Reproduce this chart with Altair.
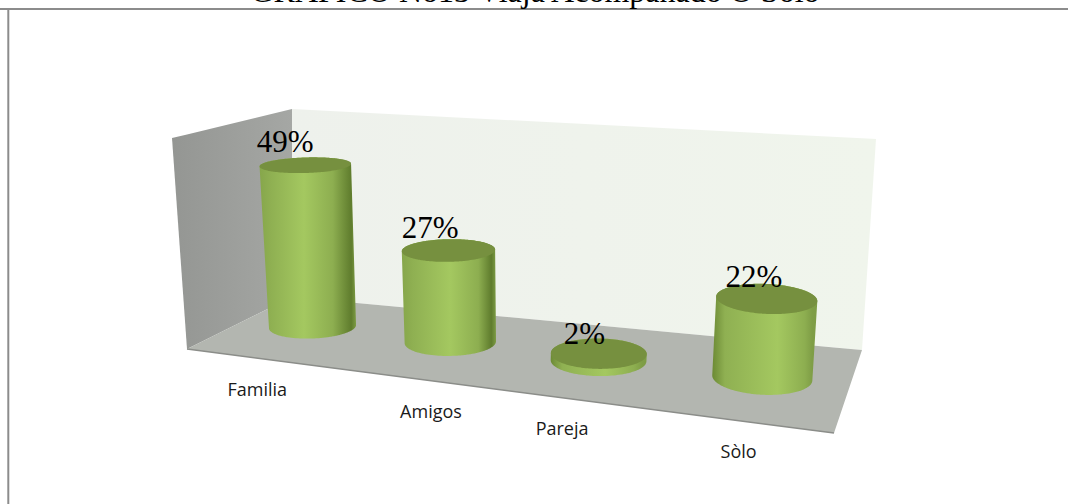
import altair as alt
import numpy as np
import pandas as pd

# Chart values
categories = ["Familia", "Amigos", "Pareja", "Sòlo"]
shares = [49, 27, 2, 22]
share_labels = ["49%", "27%", "2%", "22%"]
title_text = "GRAFICO No13 Viaja Acompañado O Solo"

# Camera of the 3D box: screen position of the floor corners and the rise of each corner
AXIS_MAX = 61.3
FLOOR = [(292, 297), (862, 350), (834, 433), (187, 349)]
RISE = [(0, -188), (14, -211), (16, -235), (-15, -211)]

# Layout of the row of cylinders
SLOTS = [0.14, 0.407, 0.656, 0.888]
DEPTHS = [0.46, 0.47, 0.5, 0.49]
LEAN = [-5, -6, 0, 0]
HALF_WIDTH = (43.5, 50.0)
HALF_DEPTH = (12.0, 17.0)
TICK_SHIFT = [-55, -19, -36, -23]
TICK_DROP = 32.5
LABEL_SHIFT = [(-20, -13), (-18, -12), (-14, -9), (-12, -11)]


def homography(quad):
    src = [(0, 0), (1, 0), (1, 1), (0, 1)]
    rows, rhs = [], []
    for (u, v), (x, y) in zip(src, quad):
        rows.append([u, v, 1, 0, 0, 0, -u * x, -v * x])
        rows.append([0, 0, 0, u, v, 1, -u * y, -v * y])
        rhs += [x, y]
    return np.append(np.linalg.solve(np.array(rows, float), np.array(rhs, float)), 1).reshape(3, 3)


H_FLOOR = homography(FLOOR)
RISE_A = np.array(RISE, float)


def project(u, v, level):
    """Screen position of a box point; level 0 is the floor, 1 the top of the axis."""
    u, v = np.atleast_1d(u).astype(float), np.atleast_1d(v).astype(float)
    p = H_FLOOR @ np.vstack([u, v, np.ones_like(u)])
    floor = p[:2] / p[2]
    weights = np.vstack([(1 - u) * (1 - v), u * (1 - v), u * v, (1 - u) * v])
    return floor + level * (RISE_A.T @ weights)


def convex_ring(points):
    pts = sorted(set(map(tuple, np.round(np.asarray(points, float), 3))))

    def half(seq):
        out = []
        for p in seq:
            while len(out) > 1 and (out[-1][0] - out[-2][0]) * (p[1] - out[-2][1]) - (out[-1][1] - out[-2][1]) * (p[0] - out[-2][0]) <= 0:
                out.pop()
            out.append(p)
        return out[:-1]

    return np.array(half(pts) + half(pts[::-1]))


def polygon_frame(points):
    """Turn a convex outline into the x / y / y2 columns of an area mark."""
    ring = convex_ring(points)
    rows = []
    for x in np.unique(ring[:, 0]):
        hits = []
        for a, b in zip(ring, np.roll(ring, -1, axis=0)):
            lo, hi = sorted((a[0], b[0]))
            if lo <= x <= hi:
                if b[0] == a[0]:
                    hits += [a[1], b[1]]
                else:
                    hits.append(a[1] + (b[1] - a[1]) * (x - a[0]) / (b[0] - a[0]))
        rows.append((x, min(hits), max(hits)))
    return pd.DataFrame(rows, columns=["x", "y", "y2"])


X = alt.X("x:Q", scale=alt.Scale(domain=[0, 1068], range=[0, 1068]), axis=None)
Y = alt.Y("y:Q", scale=alt.Scale(domain=[0, 504], range=[0, 504]), axis=None)
Y2 = alt.Y2("y2:Q")


def side_fill(stops):
    return alt.Gradient(
        gradient="linear", x1=0, x2=1, y1=0, y2=0,
        stops=[alt.GradientStop(offset=o, color=c) for o, c in stops],
    )


def area(points, fill):
    return alt.Chart(polygon_frame(points)).mark_area(color=fill, interpolate="linear").encode(x=X, y=Y, y2=Y2)


def circle(u0, v0, ru, rv, level, lean=0.0):
    t = np.linspace(0, 2 * np.pi, 121)[:-1]
    return project(u0 + ru * np.cos(t), v0 + rv * np.sin(t), level).T + np.array([lean * level, 0.0])


def corner(u, v, level):
    return project(u, v, level).T[0]


def radii(u0, v0, half_width, half_depth):
    """Floor radii whose projected ellipse spans the requested screen extents."""
    du = (project(u0 + 0.01, v0, 0) - project(u0 - 0.01, v0, 0))[:, 0] / 0.02
    dv = (project(u0, v0 + 0.01, 0) - project(u0, v0 - 0.01, 0))[:, 0] / 0.02
    a = np.array([[du[0] ** 2, dv[0] ** 2], [du[1] ** 2, dv[1] ** 2]])
    sq = np.linalg.solve(a, np.array([half_width ** 2, half_depth ** 2]))
    return np.sqrt(sq)


layers = []

# Box: left wall, back wall, floor and the floor's front edge
layers.append(area(
    [corner(0, 0, 0), corner(0, 0, 1), corner(0, 1, 1), corner(0, 1, 0)],
    side_fill([(0, "#949693"), (1, "#a5a7a4")]),
))
layers.append(area(
    [corner(0, 0, 0), corner(0, 0, 1), corner(1, 0, 1), corner(1, 0, 0)],
    side_fill([(0, "#eef1ec"), (1, "#f0f5ec")]),
))
layers.append(area(
    [corner(0, 0, 0), corner(1, 0, 0), corner(1, 1, 0), corner(0, 1, 0)], "#b3b6b0"
))
edge = project([0, 1], [1, 1], 0).T
layers.append(
    alt.Chart(pd.DataFrame({"x": edge[:, 0], "y": edge[:, 1]}))
    .mark_line(color="#8b8d89", strokeWidth=1.5)
    .encode(x=X, y=Y)
)

# Cylinders, one per category, with their height taken from the share
tops = []
for i, (u0, v0, lean, share) in enumerate(zip(SLOTS, DEPTHS, LEAN, shares)):
    level = share / AXIS_MAX
    along = i / (len(categories) - 1)
    ru, rv = radii(
        u0, v0,
        HALF_WIDTH[0] + along * (HALF_WIDTH[1] - HALF_WIDTH[0]),
        HALF_DEPTH[0] + along * (HALF_DEPTH[1] - HALF_DEPTH[0]),
    )
    base, top = circle(u0, v0, ru, rv, 0), circle(u0, v0, ru, rv, level, lean)
    # Highlight drifts right and the dark flank swaps sides along the row
    peak = 0.46 + 0.16 * along
    left = "#86a64b" if along < 0.5 else "#6c8a35"
    right = "#5f7c2d" if along < 0.5 else "#7f9e46"
    layers.append(area(
        np.vstack([base, top]),
        side_fill([
            (0, left), (0.12, "#8fb052"), (peak, "#a4c860"),
            (min(peak + 0.3, 0.88), "#8dae50"), (0.95, right), (1, "#7d9c45"),
        ]),
    ))
    layers.append(area(top, "#76903f"))
    tops.append(project(u0, v0, level).T[0] + np.array([lean * level, 0.0]))

# Percentage labels resting on the caps
tops = np.array(tops)
shift = np.array(LABEL_SHIFT, float)
layers.append(
    alt.Chart(pd.DataFrame({"x": tops[:, 0] + shift[:, 0], "y": tops[:, 1] + shift[:, 1], "label": share_labels}))
    .mark_text(font="Liberation Serif", fontSize=31, color="#000000", align="center", baseline="alphabetic")
    .encode(x=X, y=Y, text="label:N")
)

# Category names under the front edge of the floor
bases = project(np.array(SLOTS), np.array(DEPTHS), 0).T
tick_x = bases[:, 0] + np.array(TICK_SHIFT)
front = project(np.array([0.0, 1.0]), np.array([1.0, 1.0]), 0).T
tick_y = np.interp(tick_x, front[:, 0], front[:, 1]) + TICK_DROP
layers.append(
    alt.Chart(pd.DataFrame({"x": tick_x, "y": tick_y, "label": categories}))
    .mark_text(font="Open Sans", fontSize=18, color="#1a1a1a", align="center", baseline="middle")
    .encode(x=X, y=Y, text="label:N")
)

# Page furniture: the frame lines and the heading cut by the top of the page
frame_h = pd.DataFrame({"x": [0, 1068], "y": [9, 9]})
frame_v = pd.DataFrame({"x": [8.3, 8.3], "y": [9, 504]})
for frame in (frame_h, frame_v):
    layers.append(alt.Chart(frame).mark_line(color="#8c8c8c", strokeWidth=2).encode(x=X, y=Y))
layers.append(
    alt.Chart(pd.DataFrame({"x": [535], "y": [1.5], "label": [title_text]}))
    .mark_text(font="Liberation Serif", fontSize=32, color="#000000", align="center", baseline="alphabetic")
    .encode(x=X, y=Y, text="label:N")
)

chart = (
    alt.layer(*layers)
    .properties(width=1068, height=504, padding=0, autosize=alt.AutoSizeParams(type="none"), background="#ffffff")
    .configure_view(stroke=None)
)
chart.save("out.html", embed_options={"renderer": "svg", "actions": False})
